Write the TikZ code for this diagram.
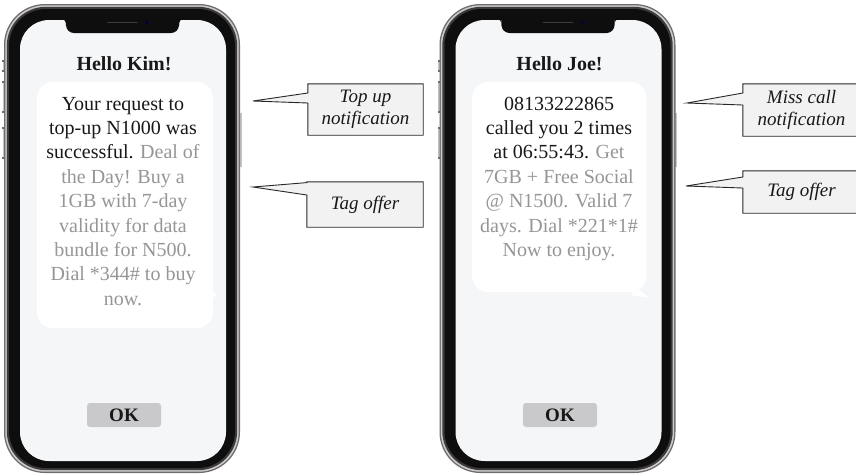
\documentclass[tikz,border=0pt]{standalone}
\usepackage{fontspec}
\setmainfont{Liberation Serif}
\usetikzlibrary{calc}

\definecolor{rimdark}{RGB}{112,108,108}
\definecolor{rimlight}{RGB}{205,203,203}
\definecolor{rimmid}{RGB}{60,58,58}
\definecolor{bezel}{RGB}{14,14,14}
\definecolor{screen}{RGB}{245,246,248}
\definecolor{inktext}{RGB}{24,24,24}
\definecolor{offergray}{RGB}{150,150,150}
\definecolor{okfill}{RGB}{201,201,203}
\definecolor{calloutfill}{RGB}{242,242,242}
\definecolor{calloutline}{RGB}{40,40,40}
\definecolor{sidegray}{RGB}{196,194,194}
\definecolor{sidetick}{RGB}{110,108,108}

\pgfdeclarelayer{paper}
\pgfdeclarelayer{shapes}
\pgfsetlayers{paper,shapes,main}

% Phone body drawn in local coordinates (y grows downwards)
\newcommand{\phoneframe}{%
  % side buttons
  \fill[sidegray] (2.5,61) rectangle (5,71);
  \fill[sidegray] (2.5,82) rectangle (5,112);
  \fill[sidegray] (2.5,128) rectangle (5,158);
  \fill[sidegray] (239,113) rectangle (241.5,167);
  \foreach \ty in {61,71,82,112,128,158}{\fill[sidetick] (2,\ty-0.6) rectangle (5,\ty+0.6);}
  % metal rim and black bezel
  \fill[rimdark, rounded corners=41pt] (4,4) rectangle (240,473);
  \fill[rimlight, rounded corners=40pt] (5.3,5.3) rectangle (238.7,471.7);
  \fill[rimmid, rounded corners=39pt] (6.8,6.8) rectangle (237.2,470.2);
  \fill[bezel, rounded corners=37pt] (9,9) rectangle (235,468);
  % display
  \fill[screen, rounded corners=29pt] (20,20) rectangle (226,461);
  % notch with speaker and camera
  \fill[bezel, rounded corners=8pt] (66,12) -- (66,33) -- (179,33) -- (179,12) -- cycle;
  \fill[bezel] (60,19) .. controls (65,19) and (66,21) .. (66,26) -- (66,18) -- cycle;
  \fill[bezel] (185,19) .. controls (180,19) and (179,21) .. (179,26) -- (179,18) -- cycle;
  \draw[line width=1.6pt, rimmid, line cap=round] (108,22.5) -- (137,22.5);
  \fill[blue!25!black] (147,22.5) circle (1.8pt);
}

\begin{document}
\begin{tikzpicture}[x=1pt, y=-1pt,
  head/.style={anchor=base, inner sep=0pt, text=inktext,
    font=\fontsize{20}{24}\selectfont\bfseries},
  msg/.style={anchor=base, inner sep=0pt, text=inktext},
  okbtn/.style={fill=okfill, rounded corners=3pt, minimum width=74pt,
    minimum height=24pt, inner sep=0pt, text=inktext,
    font=\fontsize{19}{22}\selectfont\bfseries},
  ctext/.style={align=center, inner sep=0pt, text=inktext,
    font=\fontsize{19}{22}\selectfont\itshape},
  callout/.style={fill=calloutfill, draw=calloutline, line width=0.9pt,
    line join=miter},
  bubble/.style={fill=white, rounded corners=16pt}]

\useasboundingbox (0,0) rectangle (856,475);
\begin{pgfonlayer}{paper}
  \fill[white] (0,0) rectangle (856,475);
\end{pgfonlayer}

% ---------- first phone ----------
\begin{scope}
  \phoneframe
  \fill[bubble] (37,82) rectangle (213,328);
  \fill[white] (206,284) -- (217,296) -- (205,299) -- cycle;
  \node[head] (kimhead) at (124,70) {Hello Kim!};
  \node[msg] (kimmsg) at (123,110) {\parbox[t]{200pt}{\centering
    \fontsize{20}{24.4}\selectfont
    Your request to\\
    top-up N1000 was\\
    successful. \color{offergray}Deal of\\
    the Day! Buy a\\
    1GB with 7-day\\
    validity for data\\
    bundle for N500.\\
    Dial *344\# to buy\\
    now.}};
  \node[okbtn] (kimok) at (124,415) {OK};
\end{scope}

% ---------- second phone ----------
\begin{scope}[shift={(435.5,0)}]
  \phoneframe
  \fill[bubble] (36.5,82) rectangle (211,292);
  \fill[white] (198,285) -- (214,298) -- (196,295) -- cycle;
  \node[head] (joehead) at (124,70) {Hello Joe!};
  \node[msg] (joemsg) at (123.5,110) {\parbox[t]{200pt}{\centering
    \fontsize{20}{24.4}\selectfont
    08133222865\\
    called you 2 times\\
    at 06:55:43. \color{offergray}Get\\
    7GB + Free Social\\
    @ N1500. Valid 7\\
    days. Dial *221*1\#\\
    Now to enjoy.}};
  \node[okbtn] (joeok) at (124.5,415) {OK};
\end{scope}

% ---------- callouts ----------
\node[ctext, minimum width=115pt, minimum height=51pt] (topup) at (365.5,109.5) {Top up\\notification};
\coordinate (topuptip) at (253,101);
\node[ctext, minimum width=116pt, minimum height=45pt] (tagleft) at (365,204.5) {Tag offer};
\coordinate (taglefttip) at (253,187);
\node[ctext, minimum width=117pt, minimum height=52pt] (misscall) at (801.5,110) {Miss call\\notification};
\coordinate (misscalltip) at (687,103);
\node[ctext, minimum width=117pt, minimum height=42pt] (tagright) at (801.5,192) {Tag offer};
\coordinate (tagrighttip) at (686,186);

\begin{pgfonlayer}{shapes}
  \draw[callout] (topup.north west) -- (topup.north east) -- (topup.south east)
    -- (topup.south west) -- (topup.west |- 0,103) -- (topuptip)
    -- (topup.west |- 0,93) -- cycle;
  \draw[callout] (tagleft.north west) -- (tagleft.north east) -- (tagleft.south east)
    -- (tagleft.south west) -- (tagleft.west |- 0,195) -- (taglefttip)
    -- (tagleft.west |- 0,182.6) -- cycle;
  \draw[callout] (misscall.north west) -- (misscall.north east) -- (misscall.south east)
    -- (misscall.south west) -- (misscall.west |- 0,105) -- (misscalltip)
    -- (misscall.west |- 0,93) -- cycle;
  \draw[callout] (tagright.north west) -- (tagright.north east) -- (tagright.south east)
    -- (tagright.south west) -- (tagright.west |- 0,188) -- (tagrighttip)
    -- (tagright.west |- 0,177) -- cycle;
\end{pgfonlayer}

\end{tikzpicture}
\end{document}
